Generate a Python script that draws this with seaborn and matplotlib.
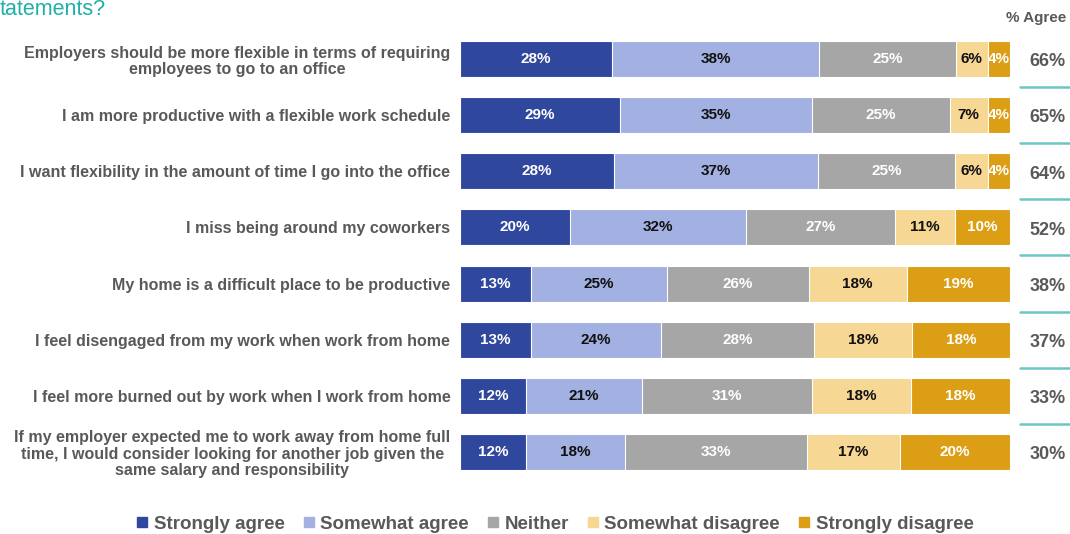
import matplotlib
matplotlib.use("Agg")
import matplotlib.pyplot as plt
from matplotlib.lines import Line2D
import seaborn as sns
import numpy as np
import pandas as pd

statements = [
    "Employers should be more flexible in terms of requiring\nemployees to go to an office",
    "I am more productive with a flexible work schedule",
    "I want flexibility in the amount of time I go into the office",
    "I miss being around my coworkers",
    "My home is a difficult place to be productive",
    "I feel disengaged from my work when work from home",
    "I feel more burned out by work when I work from home",
    "If my employer expected me to work away from home full\ntime, I would consider looking for another job given the\nsame salary and responsibility",
]
categories = ["Strongly agree", "Somewhat agree", "Neither", "Somewhat disagree", "Strongly disagree"]
strongly_agree = [28, 29, 28, 20, 13, 13, 12, 12]
somewhat_agree = [38, 35, 37, 32, 25, 24, 21, 18]
neither = [25, 25, 25, 27, 26, 28, 31, 33]
somewhat_disagree = [6, 7, 6, 11, 18, 18, 18, 17]
strongly_disagree = [4, 4, 4, 10, 19, 18, 18, 20]
pct_agree = [66, 65, 64, 52, 38, 37, 33, 30]

colors = ["#30479e", "#a2b0e2", "#a6a6a6", "#f7d794", "#dc9e14"]
text_colors = ["white", "#111111", "white", "#111111", "white"]

sns.set_theme(style="white")
plt.rcParams["font.family"] = ["Liberation Sans", "DejaVu Sans"]

vals = np.array([strongly_agree, somewhat_agree, neither, somewhat_disagree, strongly_disagree], dtype=float)
totals = vals.sum(axis=0)
norm = vals / totals * 100
cum = np.cumsum(norm, axis=0)

fig = plt.figure(figsize=(10.7, 5.34), dpi=100)
ax = fig.add_axes([460 / 1070, 1 - 480 / 534, 550 / 1070, 449 / 534])

for k in range(len(categories) - 1, -1, -1):
    df = pd.DataFrame({"statement": statements, "value": cum[k]})
    sns.barplot(data=df, x="value", y="statement", color=colors[k], orient="h",
                width=0.64, edgecolor="white", linewidth=0.8, saturation=1, ax=ax)

for k in range(len(categories)):
    for i in range(len(statements)):
        center = cum[k, i] - norm[k, i] / 2
        ax.text(center, i, f"{int(vals[k, i])}%", ha="center", va="center",
                color=text_colors[k], fontsize=11, fontweight="bold")

ax.set_xlim(0, 100)
ax.set_ylim(7.5, -0.5)
ax.set_xlabel("")
ax.set_ylabel("")
ax.set_xticks([])
for s in ax.spines.values():
    s.set_visible(False)
ax.tick_params(axis="y", length=0, pad=7)
ax.set_yticks(range(len(statements)))
ax.set_yticklabels(statements, fontsize=11.5, fontweight="bold", color="#595959",
                   multialignment="center", linespacing=1.1)

ytr = ax.get_yaxis_transform()
for i in range(len(statements) - 1):
    ax.plot([1.018, 1.11], [i + 0.5, i + 0.5], transform=ytr, color="#6cc7c3",
            linewidth=1.8, clip_on=False)
for i, v in enumerate(pct_agree):
    ax.text(1.068, i + 0.05, f"{v}%", transform=ytr, ha="center", va="center",
            fontsize=13, fontweight="bold", color="#595959")

fig.text(1036 / 1070, 1 - 18 / 534, "% Agree", ha="center", va="center",
         fontsize=11, fontweight="bold", color="#595959")
fig.text(0.0, 1 - 15 / 534, "tatements?", ha="left", va="baseline",
         fontsize=15.5, color="#1fb0a6")

handles = [Line2D([], [], marker="s", linestyle="none", markersize=7.5,
                  markerfacecolor=c, markeredgecolor=c) for c in colors]
leg = fig.legend(handles, categories, loc="center", ncol=5,
                 bbox_to_anchor=(555 / 1070, 1 - 524 / 534), frameon=False,
                 handlelength=0.6, handletextpad=0.3, columnspacing=1.0,
                 prop={"size": 13.5, "weight": "bold"})
for t in leg.get_texts():
    t.set_color("#595959")

fig.savefig("out.png", dpi=100)
